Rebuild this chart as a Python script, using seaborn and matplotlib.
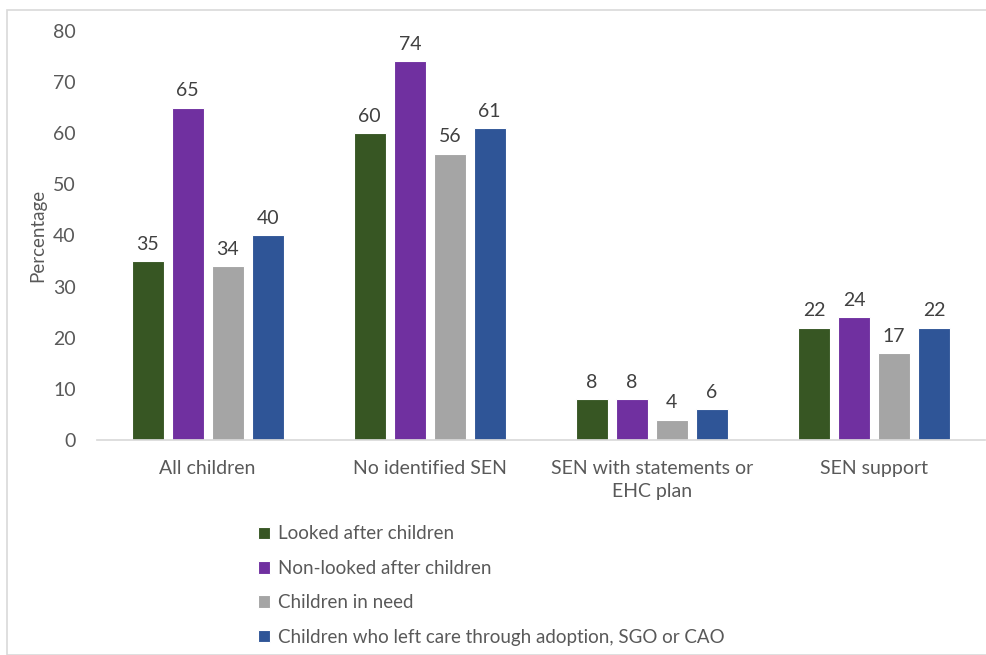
import matplotlib
matplotlib.use("Agg")
import matplotlib.pyplot as plt
import seaborn as sns
import pandas as pd
from matplotlib.patches import Rectangle

categories = ["All children", "No identified SEN", "SEN with statements or\nEHC plan", "SEN support"]
series = ["Looked after children", "Non-looked after children", "Children in need",
          "Children who left care through adoption, SGO or CAO"]
looked_after = [35, 60, 8, 22]
non_looked_after = [65, 74, 8, 24]
in_need = [34, 56, 4, 17]
left_care = [40, 61, 6, 22]
colors = ["#375623", "#7030A0", "#A5A5A5", "#2F5597"]

rows = []
for name, vals in zip(series, [looked_after, non_looked_after, in_need, left_care]):
    for cat, v in zip(categories, vals):
        rows.append({"category": cat, "series": name, "value": v})
df = pd.DataFrame(rows)

sns.set_theme(style="white")
plt.rcParams["font.family"] = ["Lato", "DejaVu Sans"]

fig = plt.figure(figsize=(9.86, 6.55), dpi=100)
ax = fig.add_axes([0.098, 0.328, 0.901, 0.625])

sns.barplot(data=df, x="category", y="value", hue="series", order=categories,
            hue_order=series, palette=colors, saturation=1, width=0.72, gap=0.2,
            edgecolor="white", linewidth=0.8, ax=ax)

for cont in ax.containers:
    ax.bar_label(cont, fmt="%d", padding=6, fontsize=14, color="#404040")

ax.set_ylim(0, 80)
ax.set_yticks(range(0, 81, 10))
ax.set_xlim(-0.5, 3.5)
ax.set_xlabel("")
ax.set_ylabel("Percentage", fontsize=13.5, color="#595959", labelpad=0)
ax.yaxis.set_label_coords(-0.057, 0.5)
ax.tick_params(axis="both", labelsize=14, colors="#595959", length=0)
ax.tick_params(axis="x", pad=14)
ax.tick_params(axis="y", pad=15)
for lab in ax.get_xticklabels():
    lab.set_linespacing(1.45)
for s in ["top", "right", "left"]:
    ax.spines[s].set_visible(False)
ax.spines["bottom"].set_color("#D9D9D9")

leg = ax.legend(loc="upper left", bbox_to_anchor=(0.163, -0.167), frameon=False,
                fontsize=13.5, handlelength=0.65, handleheight=0.65, handletextpad=0.4,
                labelspacing=0.93)
for t in leg.get_texts():
    t.set_color("#595959")

fig.patches.append(Rectangle((7 / 986, 0.0), 1.0, 1 - 10 / 655, transform=fig.transFigure,
                             fill=False, edgecolor="#D9D9D9", linewidth=1.2))

fig.savefig("out.png", dpi=100)
plt.close(fig)
